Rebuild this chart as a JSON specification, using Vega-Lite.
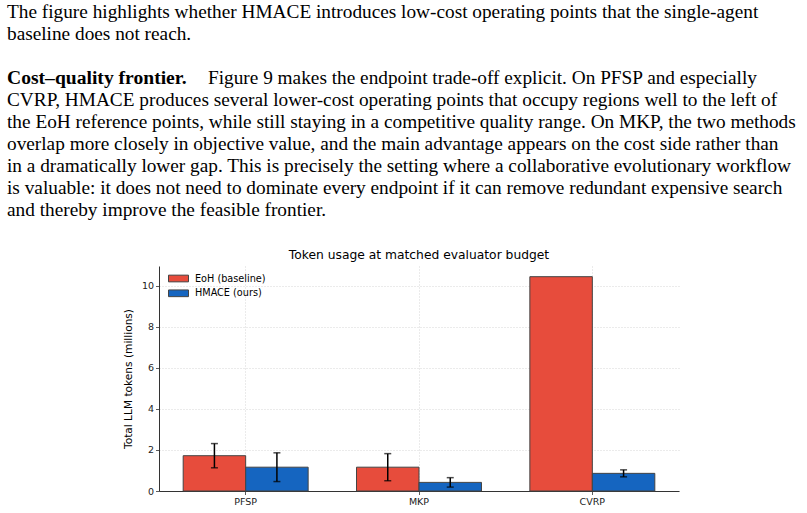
{
  "$schema": "https://vega.github.io/schema/vega-lite/v6.json",
  "padding": {"left": 7, "top": 1, "right": 0, "bottom": 0},
  "config": {
    "view": {"stroke": null},
    "font": "DejaVu Sans"
  },
  "spacing": 27,
  "resolve": {"scale": {"color": "independent"}, "legend": {"color": "independent"}},
  "vconcat": [
    {
      "width": 800,
      "height": 220,
      "data": {
        "values": [
          {"line": 0, "kind": "plain", "text": "The figure highlights whether HMACE introduces low-cost operating points that the single-agent"},
          {"line": 1, "kind": "plain", "text": "baseline does not reach."},
          {"line": 3, "kind": "head", "text": "Cost–quality frontier."},
          {"line": 3, "kind": "tail", "text": "Figure 9 makes the endpoint trade-off explicit.  On PFSP and especially"},
          {"line": 4, "kind": "plain", "text": "CVRP, HMACE produces several lower-cost operating points that occupy regions well to the left of"},
          {"line": 5, "kind": "plain", "text": "the EoH reference points, while still staying in a competitive quality range. On MKP, the two methods"},
          {"line": 6, "kind": "plain", "text": "overlap more closely in objective value, and the main advantage appears on the cost side rather than"},
          {"line": 7, "kind": "plain", "text": "in a dramatically lower gap. This is precisely the setting where a collaborative evolutionary workflow"},
          {"line": 8, "kind": "plain", "text": "is valuable: it does not need to dominate every endpoint if it can remove redundant expensive search"},
          {"line": 9, "kind": "plain", "text": "and thereby improve the feasible frontier."}
        ]
      },
      "encoding": {
        "x": {"value": 0},
        "y": {"field": "line", "type": "quantitative", "scale": {"domain": [-0.5, 9.5], "reverse": true, "nice": false, "zero": false}, "axis": null},
        "text": {"field": "text"}
      },
      "layer": [
        {
          "transform": [{"filter": "datum.kind == 'plain'"}],
          "mark": {"type": "text", "align": "left", "baseline": "middle", "font": "Liberation Serif", "fontSize": 19.3, "color": "#000"}
        },
        {
          "transform": [{"filter": "datum.kind == 'head'"}],
          "mark": {"type": "text", "align": "left", "baseline": "middle", "font": "Liberation Serif", "fontSize": 19.6, "fontWeight": "bold", "color": "#000"}
        },
        {
          "transform": [{"filter": "datum.kind == 'tail'"}],
          "mark": {"type": "text", "align": "left", "baseline": "middle", "font": "Liberation Serif", "fontSize": 19.3, "dx": 201, "color": "#000"}
        }
      ]
    },
    {
      "spacing": 0,
      "resolve": {"scale": {"color": "independent"}, "legend": {"color": "independent"}},
      "hconcat": [
        {
          "width": 116,
          "height": 10,
          "data": {"values": [{}]},
          "mark": {"type": "text"},
          "encoding": {"text": {"value": ""}}
        },
        {
          "width": 520,
          "height": 225,
          "title": {"text": "Token usage at matched evaluator budget", "font": "DejaVu Sans", "fontSize": 12.3, "fontWeight": "normal", "color": "#000", "offset": 5},
          "data": {
            "values": [
              {"task": "PFSP", "method": "EoH (baseline)", "mean": 1.72, "sd": 0.59},
              {"task": "PFSP", "method": "HMACE (ours)", "mean": 1.16, "sd": 0.7},
              {"task": "MKP", "method": "EoH (baseline)", "mean": 1.16, "sd": 0.66},
              {"task": "MKP", "method": "HMACE (ours)", "mean": 0.42, "sd": 0.23},
              {"task": "CVRP", "method": "EoH (baseline)", "mean": 10.44, "sd": null},
              {"task": "CVRP", "method": "HMACE (ours)", "mean": 0.86, "sd": 0.17}
            ]
          },
          "encoding": {
            "x": {
              "field": "task", "type": "nominal", "sort": ["PFSP", "MKP", "CVRP"],
              "scale": {"paddingInner": 0.279, "paddingOuter": 0.1395},
              "axis": {
                "title": null, "labelAngle": 0, "labelFontSize": 9.5, "labelColor": "#222", "labelPadding": 2,
                "tickSize": 3.5, "tickColor": "#333", "tickWidth": 0.8, "bandPosition": 0.5,
                "domainColor": "#333", "domainWidth": 1,
                "grid": true, "gridColor": "#cccccc", "gridDash": [1, 2], "gridWidth": 0.8
              }
            },
            "xOffset": {"field": "method", "sort": ["EoH (baseline)", "HMACE (ours)"]}
          },
          "layer": [
            {
              "mark": {"type": "bar", "stroke": "#444", "strokeWidth": 1},
              "encoding": {
                "y": {
                  "field": "mean", "type": "quantitative", "stack": null,
                  "title": "Total LLM tokens (millions)",
                  "scale": {"domain": [0, 10.96], "nice": false},
                  "axis": {
                    "titleFontSize": 10.6, "titleFontWeight": "normal", "titleColor": "#000", "titlePadding": 8,
                    "values": [0, 2, 4, 6, 8, 10], "labelFontSize": 9.5, "labelColor": "#222", "labelPadding": 2,
                    "tickSize": 3.5, "tickColor": "#333", "tickWidth": 0.8,
                    "domainColor": "#333", "domainWidth": 1,
                    "grid": true, "gridColor": "#cccccc", "gridDash": [1, 2], "gridWidth": 0.8
                  }
                },
                "color": {
                  "field": "method", "type": "nominal",
                  "scale": {"domain": ["EoH (baseline)", "HMACE (ours)"], "range": ["#e74c3c", "#1565c0"]},
                  "legend": {
                    "title": null, "orient": "top-left", "offset": 7,
                    "symbolType": "M-0.6,-0.67H3.4V0.67H-0.6Z", "symbolSize": 100, "symbolOpacity": 1,
                    "symbolStrokeColor": "#444", "symbolStrokeWidth": 1,
                    "labelFontSize": 9.7, "labelColor": "#000", "labelOffset": 18, "rowPadding": 3.8
                  }
                }
              }
            },
            {
              "transform": [{"filter": "isValid(datum.sd)"}],
              "mark": {"type": "errorbar", "color": "#000", "thickness": 1.5, "ticks": {"size": 7, "thickness": 1.5, "color": "#000"}},
              "encoding": {
                "y": {"field": "mean", "type": "quantitative", "title": "Total LLM tokens (millions)"},
                "yError": {"field": "sd"}
              }
            }
          ]
        }
      ]
    }
  ]
}
